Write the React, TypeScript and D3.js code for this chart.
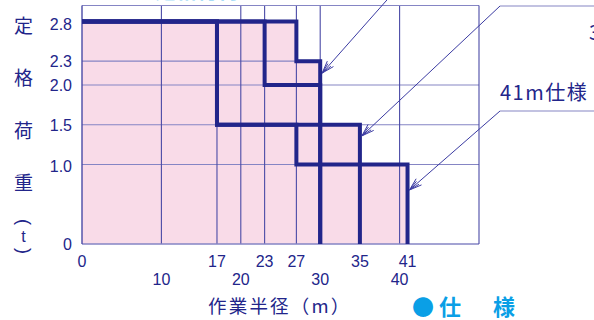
import React from "react";
import * as d3 from "d3";

// ---- data ----
const xTicksRow1 = [0, 17, 23, 27, 35, 41];
const xTicksRow2 = [10, 20, 30, 40];
const yTicks = [0, 1.0, 1.5, 2.0, 2.3, 2.8];
const yTickLabels = ["0", "1.0", "1.5", "2.0", "2.3", "2.8"];

// capacity curves: radius break points and loads (t)
const specNames = ["30m仕様A", "30m仕様B", "35m仕様", "41m仕様"];
const specRadius = [
  [0, 27, 30],
  [0, 23, 30],
  [0, 17, 35],
  [0, 17, 27, 41],
];
const specLoad = [
  [2.8, 2.3],
  [2.8, 2.0],
  [2.8, 1.5],
  [2.8, 1.5, 1.0],
];

// full-height vertical grid values, full-width horizontal grid values
const vGrid = [10, 20, 23, 27, 30, 40];
const hGrid = [1.0, 1.5, 2.0];
// partial grid lines [value, extent]
const hGridPartial = [[2.3, 30]];
const vGridPartial = [[17, 2.8]];

// annotation arrows: target (radius, load)
const annotRadius = [30, 35, 41];
const annotLoad = [2.15, 1.36, 0.68];

const yTitleChars = ["定", "格", "荷", "重"];

const NAVY = "#22258a";
const GRID_V = "#4a4aa6";
const GRID_H = "#8585c4";
const PINK = "#f9dbe8";
const CYAN = "#0a9fe6";
const JP = "'Noto Sans CJK JP', 'Noto Sans', sans-serif";
const NUM = "'Liberation Sans', Arial, sans-serif";

function stepPoints(r: number[], l: number[]): [number, number][] {
  const pts: [number, number][] = [];
  for (let i = 0; i < l.length; i++) {
    pts.push([r[i], l[i]]);
    pts.push([r[i + 1], l[i]]);
  }
  pts.push([r[r.length - 1], 0]);
  return pts;
}

export default function App() {
  const W = 594, H = 320;
  const x = d3.scaleLinear().domain([0, 50]).range([82, 479]);
  const y = d3.scaleLinear().domain([0, 3]).range([244, 5.5]);
  const line = d3.line<[number, number]>().x((d) => x(d[0])).y((d) => y(d[1]));

  const arrowStarts: [number, number][] = [
    [394, -8],
    [500, 6],
    [500, 111],
  ];

  const arrowHead = (tx: number, ty: number, sx: number, sy: number) => {
    const ang = Math.atan2(sy - ty, sx - tx);
    const out: string[] = [];
    [
      [0.32, 13],
      [0.18, 11],
    ].forEach(([da, len]) => {
      [ang - da, ang + da].forEach((a) => {
        out.push(`M${tx},${ty}L${tx + len * Math.cos(a)},${ty + len * Math.sin(a)}`);
      });
    });
    return out.join("");
  };

  return (
    <svg
      width={W}
      height={H}
      style={{ position: "absolute", left: 0, top: 0, background: "#fff" }}
    >
      {/* top cropped title */}
      <text x={134} y={-2.5} fontFamily={JP} fontSize={21} fontWeight="bold" fill="#a8dcf6">
        ●定格総荷重
      </text>

      {/* pink fill */}
      {specRadius.map((r, i) => {
        const pts = stepPoints(r, specLoad[i]);
        const poly: [number, number][] = [[0, 0], ...pts];
        return <path key={"f" + i} d={line(poly) + "Z"} fill={PINK} stroke="none" />;
      })}

      {/* grid */}
      {hGrid.map((v) => (
        <line key={"h" + v} x1={x(0)} x2={x(50)} y1={y(v)} y2={y(v)} stroke={GRID_H} strokeWidth={1.2} />
      ))}
      {hGridPartial.map(([v, e]) => (
        <line key={"hp" + v} x1={x(0)} x2={x(e)} y1={y(v)} y2={y(v)} stroke={GRID_H} strokeWidth={1.2} />
      ))}
      {vGrid.map((v) => (
        <line key={"v" + v} x1={x(v)} x2={x(v)} y1={y(0)} y2={y(3)} stroke={GRID_V} strokeWidth={1.1} />
      ))}
      {vGridPartial.map(([v, e]) => (
        <line key={"vp" + v} x1={x(v)} x2={x(v)} y1={y(0)} y2={y(e)} stroke={GRID_V} strokeWidth={1.1} />
      ))}
      {/* frame */}
      <line x1={x(0)} x2={x(50)} y1={y(3)} y2={y(3)} stroke={GRID_H} strokeWidth={1.2} />
      <line x1={x(0)} x2={x(50)} y1={y(0)} y2={y(0)} stroke={GRID_H} strokeWidth={1.5} />
      <line x1={x(50)} x2={x(50)} y1={y(0)} y2={y(3)} stroke={GRID_V} strokeWidth={1.1} />
      <line x1={x(0)} x2={x(0)} y1={y(0)} y2={y(3)} stroke={GRID_V} strokeWidth={1.4} />

      {/* step lines */}
      {specRadius.map((r, i) => (
        <path
          key={"s" + i}
          d={line(stepPoints(r, specLoad[i])) || ""}
          fill="none"
          stroke={NAVY}
          strokeWidth={4}
          strokeLinejoin="miter"
          strokeLinecap="butt"
        />
      ))}

      {/* annotation arrows */}
      {annotRadius.map((r, i) => {
        const tx = x(r) + 2;
        const ty = y(annotLoad[i]);
        const [sx, sy] = arrowStarts[i];
        return (
          <g key={"a" + i} stroke="#3b3ba2" strokeWidth={1} fill="none">
            <line x1={sx} y1={sy} x2={tx} y2={ty} />
            <path d={arrowHead(tx, ty, sx, sy)} />
          </g>
        );
      })}
      <line x1={500} x2={594} y1={6} y2={6} stroke={GRID_H} strokeWidth={1.2} />
      <line x1={500} x2={594} y1={111} y2={111} stroke={GRID_H} strokeWidth={1.2} />
      <text x={589} y={40} fontFamily={JP} fontSize={20} fill={NAVY}>
        {specNames[2]}
      </text>
      <text x={500} y={100} fontFamily={JP} fontSize={20} letterSpacing={1.5} fill={NAVY}>
        {specNames[3]}
      </text>

      {/* y tick labels */}
      {yTicks.map((v, i) => (
        <text
          key={"yt" + v}
          x={72}
          y={y(v) + 6 + (v === 2.8 ? 3 : 0) + (v === 1.0 ? 1.5 : 0)}
          textAnchor="end"
          fontFamily={NUM}
          fontSize={16}
          fill={NAVY}
        >
          {yTickLabels[i]}
        </text>
      ))}

      {/* x tick labels */}
      {xTicksRow1.map((v) => (
        <text key={"x1" + v} x={x(v)} y={267} textAnchor="middle" fontFamily={NUM} fontSize={16} fill={NAVY}>
          {v}
        </text>
      ))}
      {xTicksRow2.map((v) => (
        <text key={"x2" + v} x={x(v)} y={285} textAnchor="middle" fontFamily={NUM} fontSize={16} fill={NAVY}>
          {v}
        </text>
      ))}

      {/* y title */}
      {yTitleChars.map((c, i) => (
        <text key={"yc" + i} x={23.5} y={[33, 85, 138, 190][i]} textAnchor="middle" fontFamily={JP} fontSize={19} fill={NAVY}>
          {c}
        </text>
      ))}
      <text
        transform="translate(23.5,222) rotate(90)"
        textAnchor="middle"
        dominantBaseline="central"
        fontFamily={NUM}
        fontSize={18}
        fill={NAVY}
      >
        (
      </text>
      <text x={23.5} y={242} textAnchor="middle" fontFamily={NUM} fontSize={16} fill={NAVY}>t</text>
      <text
        transform="translate(23.5,251) rotate(90)"
        textAnchor="middle"
        dominantBaseline="central"
        fontFamily={NUM}
        fontSize={18}
        fill={NAVY}
      >
        )
      </text>

      {/* x title */}
      <text x={208} y={313} fontFamily={JP} fontSize={18.5} letterSpacing={2.2} fill={NAVY}>
        作業半径（m）
      </text>
      <text x={412} y={315} fontFamily={JP} fontSize={22} fontWeight="bold" fill={CYAN} letterSpacing={5}>
        ●仕　様
      </text>
    </svg>
  );
}
